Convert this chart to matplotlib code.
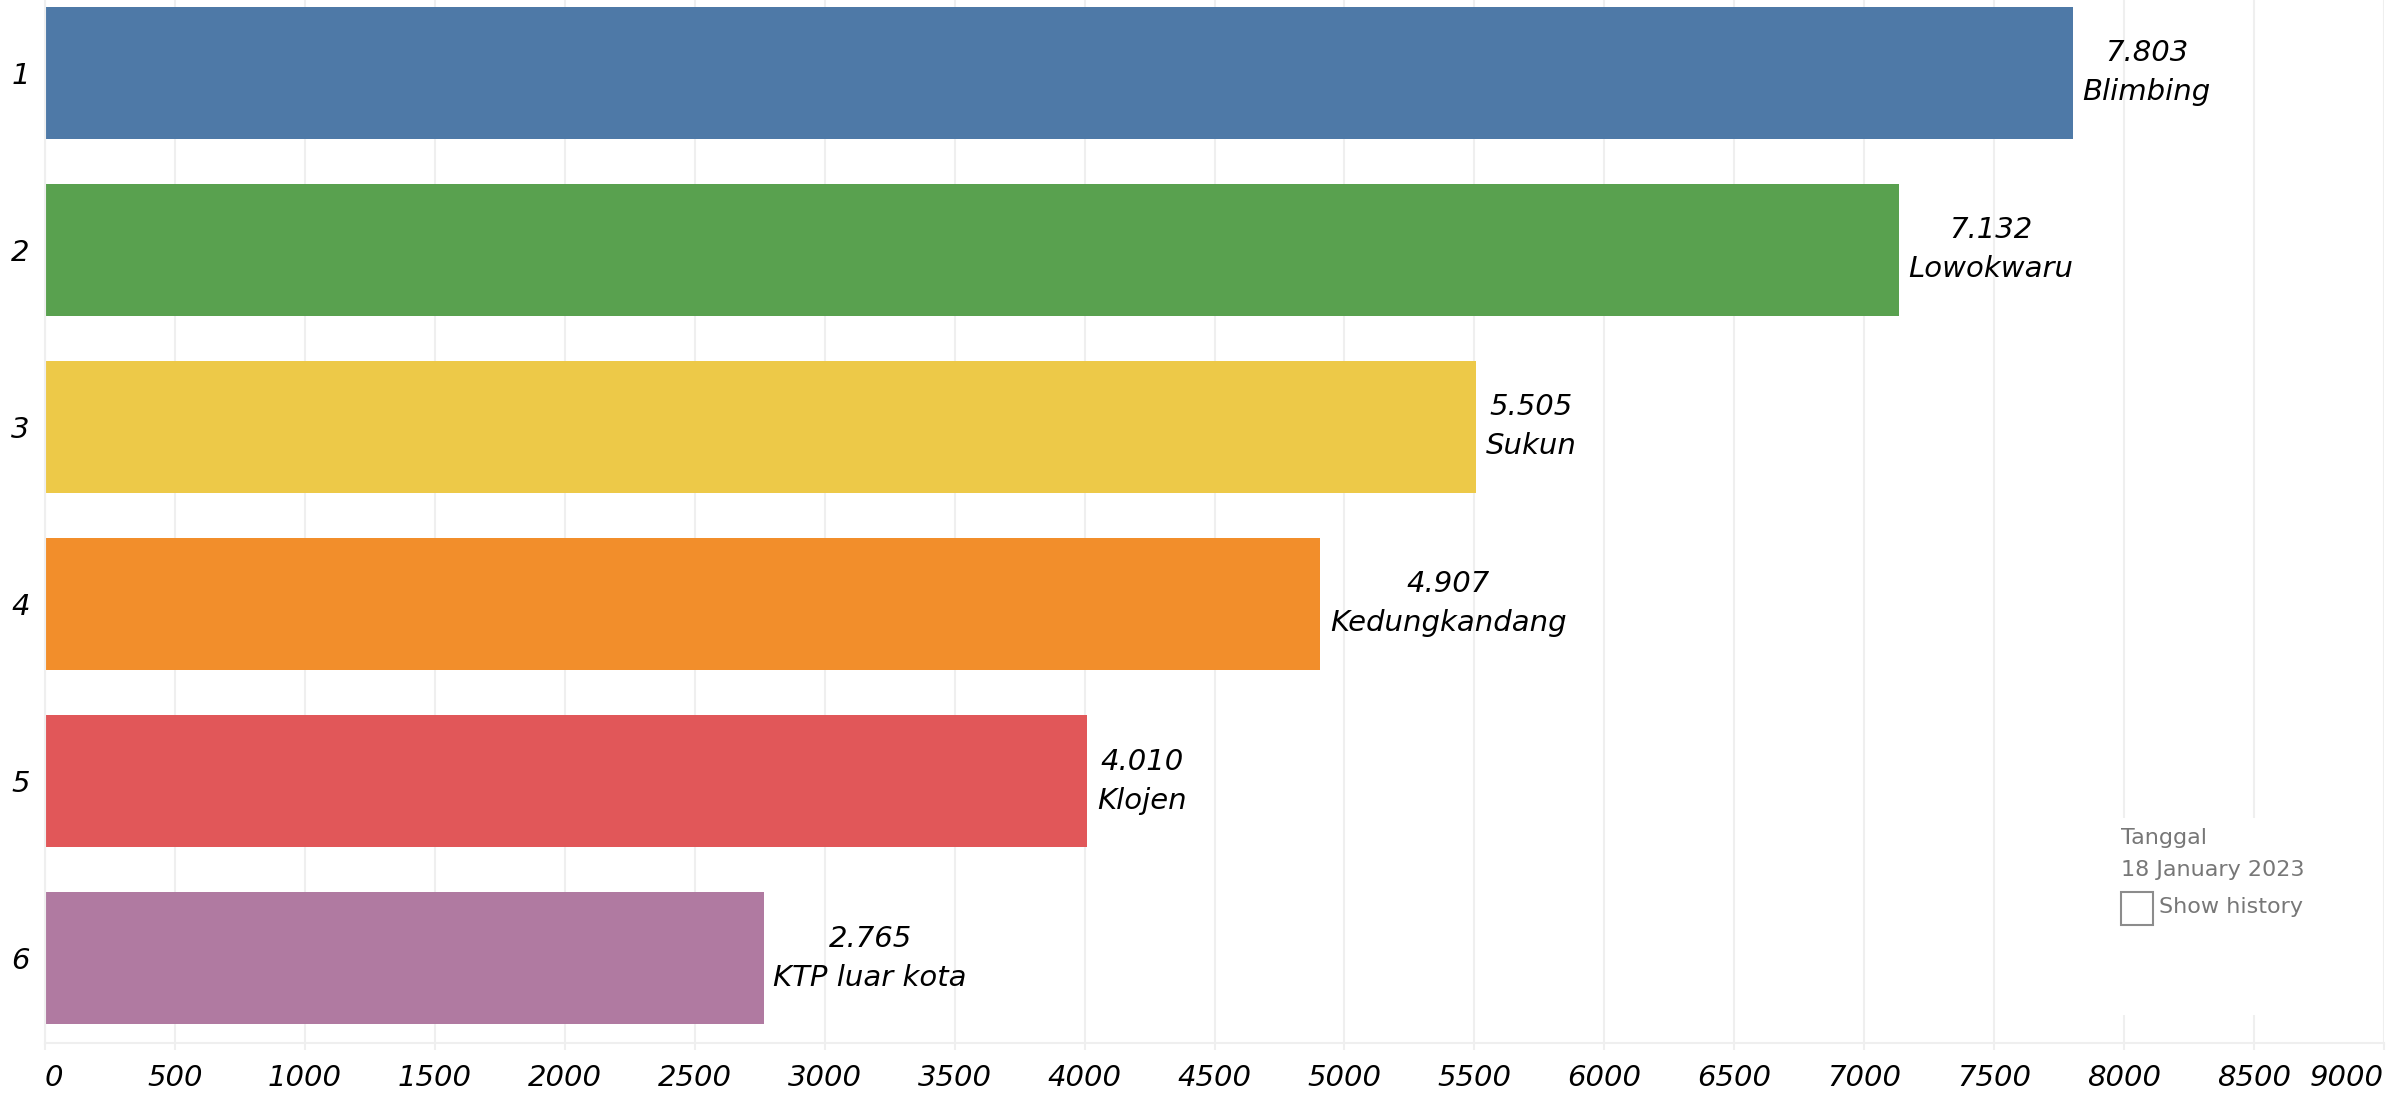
import matplotlib.pyplot as plt
from matplotlib.patches import Rectangle
import numpy as np

# data
ranks = ["1", "2", "3", "4", "5", "6"]
kecamatan = ["Blimbing", "Lowokwaru", "Sukun", "Kedungkandang", "Klojen", "KTP luar kota"]
jumlah = [7803, 7132, 5505, 4907, 4010, 2765]
colors = ["#4e79a7", "#59a14f", "#edc948", "#f28e2b", "#e15759", "#b07aa1"]
x_ticks = [0, 500, 1000, 1500, 2000, 2500, 3000, 3500, 4000, 4500,
           5000, 5500, 6000, 6500, 7000, 7500, 8000, 8500, 9000]

grid_col = "#efefef"

fig = plt.figure(figsize=(23.94, 10.96), dpi=100)
ax = fig.add_axes([45 / 2394, 53 / 1096, 2339 / 2394, 1043 / 1096])

y_pos = np.arange(len(ranks))
ax.barh(y_pos, jumlah, height=0.746, color=colors, zorder=2)

# label di ujung bar: nilai + nama kecamatan
for i, (v, name) in enumerate(zip(jumlah, kecamatan)):
    label = f"{v:,}".replace(",", ".") + "\n" + name
    ax.annotate(label, xy=(v, i), xytext=(7, 0), textcoords="offset points",
                ha="left", va="center", ma="center", fontsize=21,
                style="italic", linespacing=1.5, color="black")

ax.set_xlim(0, 9000)
ax.set_ylim(5.48, -0.412)

ax.set_yticks(y_pos)
ax.set_yticklabels(ranks, fontsize=21, style="italic")
ax.tick_params(axis="y", length=0, pad=11)

ax.set_xticks(x_ticks)
ax.set_xticklabels([str(t) for t in x_ticks], fontsize=21, style="italic")
ax.tick_params(axis="x", length=5, width=1.5, color=grid_col, pad=10)
xlabels = ax.get_xticklabels()
xlabels[0].set_ha("left")
xlabels[-1].set_ha("right")

ax.grid(axis="x", color=grid_col, linewidth=1.5, zorder=0)
ax.set_axisbelow(True)
for side in ["top", "right"]:
    ax.spines[side].set_visible(False)
ax.spines["left"].set_color(grid_col)
ax.spines["bottom"].set_color(grid_col)
ax.spines["left"].set_linewidth(1.5)
ax.spines["bottom"].set_linewidth(1.5)

# kotak keterangan tanggal (menutupi grid)
fig.patches.append(Rectangle((2110 / 2394, 1 - 1015 / 1096), 268 / 2394, 197 / 1096,
                             transform=fig.transFigure, facecolor="white",
                             edgecolor="none", zorder=3))
fig.text(2121 / 2394, 1 - 838 / 1096, "Tanggal", fontsize=16, color="#777777",
         va="center", ha="left", zorder=4)
fig.text(2121 / 2394, 1 - 870 / 1096, "18 January 2023", fontsize=16, color="#777777",
         va="center", ha="left", zorder=4)
fig.patches.append(Rectangle((2121 / 2394, 1 - 925 / 1096), 32 / 2394, 33 / 1096,
                             transform=fig.transFigure, facecolor="white",
                             edgecolor="#8c8c8c", linewidth=1.5, zorder=4))
fig.text(2159 / 2394, 1 - 907 / 1096, "Show history", fontsize=16, color="#777777",
         va="center", ha="left", zorder=4)

fig.savefig("out.png", dpi=100)
